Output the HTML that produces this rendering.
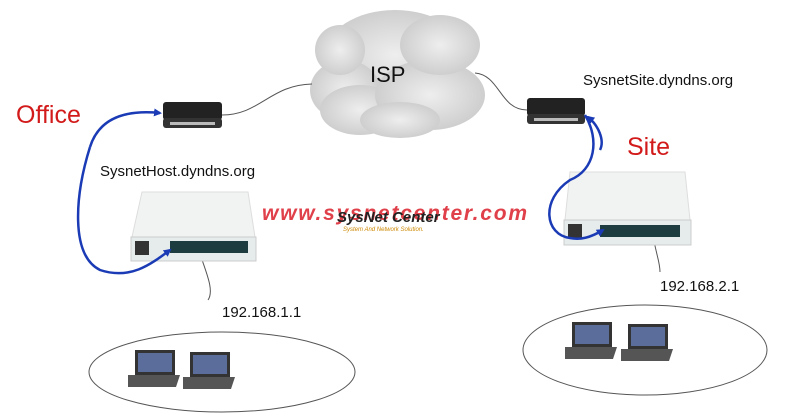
<!DOCTYPE html>
<html><head><style>body{margin:0;background:#fff}svg{display:block}text{font-family:"Liberation Sans",sans-serif}</style></head><body>
<svg width="800" height="416" viewBox="0 0 800 416" xmlns="http://www.w3.org/2000/svg">
<defs>
<radialGradient id="cg" cx="50%" cy="50%" r="60%"><stop offset="0" stop-color="#eee"/><stop offset="1" stop-color="#c8c8c8"/></radialGradient>
<marker id="ah" markerWidth="8" markerHeight="8" refX="6" refY="4" orient="auto" markerUnits="userSpaceOnUse"><path d="M0,0 L8,4 L0,8z" fill="#1a3bb5"/></marker>
</defs>
<!-- cloud -->
<g fill="url(#cg)">
<ellipse cx="395" cy="55" rx="70" ry="45"/><ellipse cx="345" cy="90" rx="35" ry="30"/>
<ellipse cx="360" cy="110" rx="40" ry="25"/><ellipse cx="430" cy="95" rx="55" ry="35"/>
<ellipse cx="340" cy="50" rx="25" ry="25"/><ellipse cx="440" cy="45" rx="40" ry="30"/>
<ellipse cx="400" cy="120" rx="40" ry="18"/>
</g>
<text x="370" y="82" font-size="22" fill="#111">ISP</text>
<!-- wires -->
<path d="M222,115 C260,115 270,85 312,84" stroke="#555" fill="none"/>
<path d="M475,73 C500,75 500,110 527,110" stroke="#555" fill="none"/>
<path d="M198,248 C205,270 215,290 208,300" stroke="#555" fill="none"/>
<path d="M652,226 C654,250 660,260 660,272" stroke="#555" fill="none"/>
<!-- modems -->
<g><rect x="163" y="102" width="59" height="18" rx="3" fill="#222"/><rect x="163" y="118" width="59" height="10" rx="3" fill="#333"/><rect x="170" y="122" width="45" height="3" fill="#bbb"/></g>
<g><rect x="527" y="98" width="58" height="18" rx="3" fill="#222"/><rect x="527" y="114" width="58" height="10" rx="3" fill="#333"/><rect x="534" y="118" width="44" height="3" fill="#bbb"/></g>
<!-- routers -->
<g><path d="M142,192 L248,192 L255,237 L132,237z" fill="#f1f3f3" stroke="#ddd"/><rect x="131" y="237" width="125" height="24" fill="#e6ecec" stroke="#ccc"/><rect x="170" y="241" width="78" height="12" fill="#1c3c40"/><rect x="135" y="241" width="14" height="14" fill="#333"/></g>
<g><path d="M570,172 L685,172 L690,220 L565,220z" fill="#f1f3f3" stroke="#ddd"/><rect x="564" y="220" width="127" height="25" fill="#e6ecec" stroke="#ccc"/><rect x="600" y="225" width="80" height="12" fill="#1c3c40"/><rect x="568" y="224" width="14" height="14" fill="#333"/></g>
<!-- blue arrows -->
<path d="M90,147 C75,195 70,255 100,270 C130,280 150,265 170,250" stroke="#1a3bb5" stroke-width="2.5" fill="none" marker-end="url(#ah)"/>
<path d="M90,147 C100,115 130,110 160,113" stroke="#1a3bb5" stroke-width="2.5" fill="none" marker-end="url(#ah)"/>
<path d="M585,115 C600,140 595,170 570,180 C540,200 545,235 570,238 C580,240 590,238 603,230" stroke="#1a3bb5" stroke-width="2.5" fill="none" marker-end="url(#ah)"/>
<path d="M600,150 C605,140 598,125 588,117" stroke="#1a3bb5" stroke-width="2.5" fill="none" marker-end="url(#ah)"/>
<!-- ellipses -->
<ellipse cx="222" cy="372" rx="133" ry="40" fill="none" stroke="#555"/>
<ellipse cx="645" cy="350" rx="122" ry="45" fill="none" stroke="#555"/>
<!-- laptops -->
<g fill="#333"><path d="M135,350 h40 v25 h-40z"/><path d="M128,375 h52 l-4,12 h-48z" fill="#555"/>
<path d="M190,352 h40 v25 h-40z"/><path d="M183,377 h52 l-4,12 h-48z" fill="#555"/>
<path d="M572,322 h40 v25 h-40z"/><path d="M565,347 h52 l-4,12 h-48z" fill="#555"/>
<path d="M628,324 h40 v25 h-40z"/><path d="M621,349 h52 l-4,12 h-48z" fill="#555"/></g>
<g fill="#5b6d9a"><rect x="138" y="353" width="34" height="19"/><rect x="193" y="355" width="34" height="19"/><rect x="575" y="325" width="34" height="19"/><rect x="631" y="327" width="34" height="19"/></g>
<!-- labels -->
<text x="16" y="123" font-size="25" fill="#d21a1a">Office</text>
<text x="627" y="155" font-size="25" fill="#d21a1a">Site</text>
<text x="100" y="176" font-size="15" fill="#111">SysnetHost.dyndns.org</text>
<text x="583" y="85" font-size="15" fill="#111">SysnetSite.dyndns.org</text>
<text x="222" y="317" font-size="15" fill="#111">192.168.1.1</text>
<text x="660" y="291" font-size="15" fill="#111">192.168.2.1</text>
<text x="262" y="220" font-size="21" font-weight="bold" font-style="italic" fill="#e0404a" textLength="265">www.sysnetcenter.com</text>
<text x="337" y="222" font-size="15" font-weight="bold" font-style="italic" fill="#222">SysNet Center</text>
<text x="343" y="231" font-size="6" font-style="italic" fill="#c80">System And Network Solution.</text>
</svg>
</body></html>
